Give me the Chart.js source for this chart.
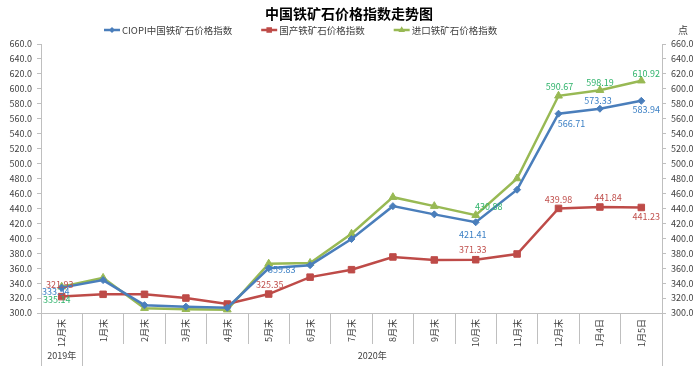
<!DOCTYPE html>
<html>
<head>
<meta charset="utf-8">
<script src="https://cdn.jsdelivr.net/npm/chart.js@4.4.1/dist/chart.umd.min.js"></script>
<style>
  html, body { margin: 0; padding: 0; background: #fff; }
  #wrap { width: 698px; height: 369px; position: relative; }
</style>
</head>
<body>
<div id="wrap"><canvas id="chart"></canvas></div>
<script>
const categories = ["12月末", "1月末", "2月末", "3月末", "4月末", "5月末", "6月末", "7月末",
  "8月末", "9月末", "10月末", "11月末", "12月末", "1月4日", "1月5日"];
const ciopi    = [333.94, 344, 310.5, 308.5, 307, 359.83, 364, 399, 443, 432, 421.41, 465, 566.71, 573.33, 583.94];
const domestic = [321.93, 325, 325, 320, 312, 325.35, 348, 358, 375, 371, 371.33, 379, 439.98, 441.84, 441.23];
const imported = [335.14, 347, 306.5, 305, 304.5, 366, 367, 406, 455, 443, 430.88, 480, 590.67, 598.19, 610.92];
const yearGroups = [
  { label: "2019年", from: 0, to: 0 },
  { label: "2020年", from: 1, to: 14 },
];
const Y_MIN = 300, Y_MAX = 660, Y_STEP = 20;

const FONT = '"Noto Sans CJK SC", "Noto Sans", sans-serif';
const GRID = "#bfbfbf";
const TXT = "#404040";

Chart.defaults.font.family = FONT;
Chart.defaults.color = TXT;

// which points carry a value label, and where (offset from the point)
const labelSpots = [
  { color: "#3a7fc4", at: { 0: [-6, 4], 5: [13, 1], 10: [-3, 12], 12: [13, 10], 13: [-2, -8], 14: [5, 9] } },
  { color: "#c0504d", at: { 0: [-2, -12], 5: [1, -9], 10: [-3, -10], 12: [0, -9], 13: [8, -9], 14: [5, 9] } },
  { color: "#2fb36b", at: { 0: [-5, 13], 10: [13, -9], 12: [1, -9], 13: [0, -8], 14: [5, -7] } },
];

const series = [
  { label: "CIOPI中国铁矿石价格指数", data: ciopi, color: "#4a7ebb", style: "rectRot", r: 3.5 },
  { label: "国产铁矿石价格指数", data: domestic, color: "#be4b48", style: "rect", r: 4.6 },
  { label: "进口铁矿石价格指数", data: imported, color: "#98b954", style: "triangle", r: 4.5 },
];

function marker(ctx, style, x, y, r) {
  ctx.beginPath();
  if (style === "rectRot") {
    ctx.moveTo(x, y - r); ctx.lineTo(x + r, y); ctx.lineTo(x, y + r); ctx.lineTo(x - r, y);
  } else if (style === "rect") {
    const s = r * Math.SQRT1_2;
    ctx.rect(x - s, y - s, 2 * s, 2 * s);
  } else {
    ctx.moveTo(x, y - r); ctx.lineTo(x + r * 0.87, y + r * 0.5); ctx.lineTo(x - r * 0.87, y + r * 0.5);
  }
  ctx.closePath();
  ctx.fill();
}

const valueLabels = {
  id: "valueLabels",
  afterDatasetsDraw(chart) {
    const ctx = chart.ctx;
    ctx.save();
    ctx.font = "9px " + FONT;
    ctx.textAlign = "center";
    ctx.textBaseline = "middle";
    labelSpots.forEach((spot, di) => {
      const meta = chart.getDatasetMeta(di);
      Object.keys(spot.at).forEach(k => {
        const pt = meta.data[k];
        const [dx, dy] = spot.at[k];
        ctx.fillStyle = spot.color;
        ctx.fillText(chart.data.datasets[di].data[k].toFixed(2), pt.x + dx, pt.y + dy);
      });
    });
    ctx.restore();
  },
};

const extras = {
  id: "extras",
  afterDraw(chart) {
    const ctx = chart.ctx;
    const x = chart.scales.x;
    const half = (x.getPixelForValue(1) - x.getPixelForValue(0)) / 2;
    ctx.save();
    // year groups under the month labels
    ctx.strokeStyle = GRID;
    ctx.lineWidth = 1;
    ctx.fillStyle = TXT;
    ctx.font = "9px " + FONT;
    ctx.textAlign = "center";
    ctx.textBaseline = "middle";
    yearGroups.forEach(g => {
      const l = x.getPixelForValue(g.from) - half;
      const r = x.getPixelForValue(g.to) + half;
      [l, r].forEach(px => {
        const p = Math.round(px) + 0.5;
        ctx.beginPath(); ctx.moveTo(p, x.top); ctx.lineTo(p, x.top + 53); ctx.stroke();
      });
      ctx.fillText(g.label, (l + r) / 2, x.top + 43);
    });

    // legend
    ctx.textAlign = "left";
    ctx.font = "9.5px " + FONT;
    let lx = 104;
    const ly = 30;
    series.forEach(s => {
      ctx.strokeStyle = s.color;
      ctx.fillStyle = s.color;
      ctx.lineWidth = 2.5;
      ctx.beginPath(); ctx.moveTo(lx, ly); ctx.lineTo(lx + 16, ly); ctx.stroke();
      marker(ctx, s.style, lx + 8, ly, s.r * 0.85);
      ctx.fillStyle = TXT;
      ctx.fillText(s.label, lx + 18, ly);
      lx += 18 + ctx.measureText(s.label).width + 29;
    });

    // unit
    ctx.font = "10px " + FONT;
    ctx.textAlign = "center";
    ctx.fillText("点", 683, 30);
    ctx.restore();
  },
};

const yAxis = (position, width, pad) => ({
  type: "linear",
  position,
  min: Y_MIN,
  max: Y_MAX,
  afterFit: s => { s.width = width; },
  border: { color: GRID },
  grid: { drawOnChartArea: false, tickLength: 4, color: GRID },
  ticks: { stepSize: Y_STEP, padding: pad, font: { size: 9 }, color: TXT, callback: v => v.toFixed(1) },
});

new Chart(document.getElementById("chart"), {
  type: "line",
  data: {
    labels: categories,
    datasets: series.map(s => ({
      label: s.label,
      data: s.data,
      yAxisID: "y",
      borderColor: s.color,
      backgroundColor: s.color,
      borderWidth: 2.5,
      tension: 0,
      pointStyle: s.style,
      pointRadius: s.r,
      pointBorderWidth: 1,
      pointBackgroundColor: s.color,
      pointBorderColor: s.color,
    })),
  },
  options: {
    responsive: true,
    maintainAspectRatio: false,
    animation: false,
    layout: { padding: 0 },
    scales: {
      x: {
        type: "category",
        offset: true,
        afterFit: s => { s.height = 56; },
        border: { color: GRID },
        grid: { offset: true, drawOnChartArea: false, tickLength: 31, color: GRID },
        ticks: { minRotation: 90, maxRotation: 90, padding: -25, font: { size: 9 }, color: TXT, autoSkip: false },
      },
      y: yAxis("left", 41, 5),
      y1: yAxis("right", 36, 5),
    },
    plugins: {
      legend: { display: false },
      tooltip: { enabled: false },
      title: {
        display: true,
        text: "中国铁矿石价格指数走势图",
        color: "#000",
        font: { size: 14, weight: "bold" },
        padding: { top: 5, bottom: 22.2 },
      },
    },
  },
  plugins: [valueLabels, extras],
});
</script>
</body>
</html>
